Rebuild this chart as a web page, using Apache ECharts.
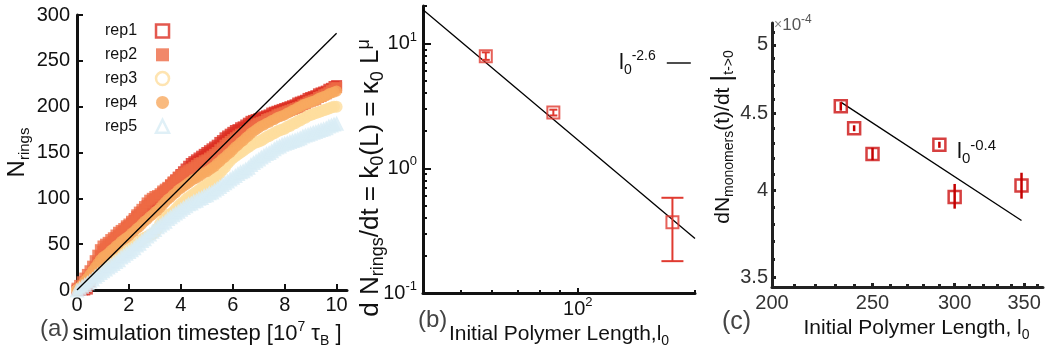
<!DOCTYPE html>
<html>
<head>
<meta charset="utf-8">
<script src="https://cdn.jsdelivr.net/npm/echarts@6/dist/echarts.min.js"></script>
<style>
html,body{margin:0;padding:0;background:#fff;}
#chart{width:1045px;height:350px;}
</style>
</head>
<body>
<div id="chart"></div>
<script>
// ---------------- DATA ----------------
// Panel (a): N_rings vs simulation timestep [10^7 tau_B]
const timesteps = [0,0.1,0.2,0.3,0.4,0.5,0.6,0.7,0.8,0.9,
  1,1.1,1.2,1.3,1.4,1.5,1.6,1.7,1.8,1.9,
  2,2.1,2.2,2.3,2.4,2.5,2.6,2.7,2.8,2.9,
  3,3.1,3.2,3.3,3.4,3.5,3.6,3.7,3.8,3.9,
  4,4.1,4.2,4.3,4.4,4.5,4.6,4.7,4.8,4.9,
  5,5.1,5.2,5.3,5.4,5.5,5.6,5.7,5.8,5.9,
  6,6.1,6.2,6.3,6.4,6.5,6.6,6.7,6.8,6.9,
  7,7.1,7.2,7.3,7.4,7.5,7.6,7.7,7.8,7.9,
  8,8.1,8.2,8.3,8.4,8.5,8.6,8.7,8.8,8.9,
  9,9.1,9.2,9.3,9.4,9.5,9.6,9.7,9.8,9.9,
  10];
const rep1 = [0,0,0,0,1,9,17,24,30,37,
  42,45,47,50,53,57,59,61,64,68,
  70,73,76,80,82,85,88,92,94,97,
  99,101,103,106,108,111,114,117,120,123,
  126,129,132,135,138,140,142,144,146,148,
  150,152,154,156,158,161,163,166,168,170,
  172,174,175,177,178,180,182,184,185,186,
  187,188,189,190,191,193,194,195,196,197,
  198,199,200,201,202,204,205,206,207,209,
  210,211,212,214,215,216,217,219,220,222,
  223];
const rep2 = [2,5,9,13,17,21,26,32,38,44,
  48,50,52,55,57,60,63,65,67,70,
  72,75,78,82,85,88,91,95,98,100,
  102,103,105,108,110,112,115,118,120,123,
  125,127,129,131,132,134,136,138,139,141,
  142,144,146,148,150,153,155,158,160,162,
  164,166,168,170,171,173,175,177,179,181,
  182,183,184,186,187,188,189,191,192,193,
  194,195,196,197,198,199,200,202,203,205,
  206,207,208,210,211,213,214,216,218,220,
  221];
const rep3 = [0,2,4,6,8,11,13,16,18,21,
  23,25,27,29,31,33,36,38,40,42,
  44,47,49,51,53,55,57,58,60,61,
  63,67,72,77,80,82,83,85,88,91,
  94,96,99,101,103,105,107,109,111,113,
  115,117,119,121,124,127,131,134,138,141,
  144,146,148,150,152,154,156,158,160,161,
  162,163,165,167,168,170,171,173,174,175,
  176,178,179,181,182,184,185,187,188,190,
  191,192,193,194,195,196,197,198,199,200,
  200];
const rep4 = [0,3,6,10,13,17,21,25,29,33,
  36,38,40,43,45,48,50,53,55,57,
  59,62,64,67,69,72,75,77,80,82,
  85,87,90,93,96,99,101,104,106,109,
  111,113,115,117,119,121,122,124,126,128,
  129,131,133,135,138,140,143,145,148,150,
  153,156,158,161,163,166,168,171,173,175,
  177,179,180,182,183,185,186,188,189,190,
  191,193,194,196,197,199,200,202,203,204,
  205,206,207,209,210,211,212,214,215,216,
  217];
const rep5 = [0,2,4,6,8,10,12,15,17,19,
  21,23,25,27,29,31,33,36,38,40,
  42,44,46,49,51,54,56,59,61,64,
  66,69,71,73,75,78,80,82,84,86,
  88,90,92,94,95,97,98,100,101,103,
  104,106,107,109,111,113,115,117,119,121,
  123,125,127,129,130,132,134,137,139,141,
  143,145,147,149,150,152,154,156,157,159,
  160,161,162,163,164,165,166,168,169,170,
  171,172,173,174,175,176,177,179,180,181,
  182];
const fitA = [[0,0],[10,280]];
const aXTicks = [0,2,4,6,8,10];
const aYTicks = [0,50,100,150,200,250,300];

// Panel (b): d N_rings/dt vs initial polymer length (log-log)
const polymerLengthB = [58, 86.5, 175];
const ringRateB = [7.9, 2.8, 0.37];
const ringRateLowB = [7.4, 2.65, 0.18];
const ringRateHighB = [8.5, 2.95, 0.58];
const fitB = [[40, 18.7],[200, 0.273]];
const bXMajor = [100];
const bXMinor = [40,50,60,70,80,90,200];
const bYMajor = [0.1, 1, 10];
const bYMinor = [0.2,0.3,0.4,0.5,0.6,0.7,0.8,0.9,2,3,4,5,6,7,8,9,20];

// Panel (c): dN_monomers/dt (x1e-4) vs initial polymer length (log-log)
const polymerLengthC = [233, 240, 250, 290, 300, 348];
const monomerRateC = [4.55, 4.40, 4.23, 4.29, 3.96, 4.03];
const monomerLowC = [4.52, 4.38, 4.19, 4.27, 3.89, 3.95];
const monomerHighC = [4.58, 4.42, 4.27, 4.31, 4.04, 4.11];
const fitC = [[233, 4.58],[348, 3.82]];
const cXMajor = [200, 250, 300, 350];
const cXMinor = [210,220,230,240,260,270,280,290,310,320,330,340,360];
const cYMajor = [3.5, 4, 4.5, 5];
const cYMinor = [3.6,3.7,3.8,3.9,4.1,4.2,4.3,4.4,4.6,4.7,4.8,4.9,5.1];

// ---------------- BUILD ----------------
const FONT = "'Liberation Sans', Arial, Helvetica, sans-serif";
const lg = Math.log10;
const INK = '#111';

function rich(base, small, color) {
  const s = (fs, lh, va) => ({fontSize: fs, lineHeight: lh, verticalAlign: va, color: color, fill: color, fontFamily: FONT, fontWeight: 'normal'});
  return {
    t: s(base, base + 6, 'middle'),
    b: s(base, base + 6, 'middle'),
    sub: s(small, small, 'bottom'),
    sup: s(small, small, 'top'),
    bar: s(base + 6, base + 6, 'middle')
  };
}

function pairs(xs, ys) { return xs.map((x, i) => [x, ys[i]]); }
function logPairs(arr) { return arr.map(p => [lg(p[0]), lg(p[1])]); }

function errorBarRenderer(capBig, capSmall, width, color) {
  return function (params, api) {
    const x = api.value(0), lo = api.value(1), hi = api.value(2);
    const a = api.coord([x, lo]), b = api.coord([x, hi]);
    const style = {stroke: color, lineWidth: width};
    const kids = [{type: 'line', shape: {x1: a[0], y1: a[1], x2: b[0], y2: b[1]}, style: style}];
    if (capBig > 0) {
      const h = Math.abs(a[1] - b[1]) > 20 ? capBig : capSmall;
      kids.push({type: 'line', shape: {x1: a[0] - h, y1: a[1], x2: a[0] + h, y2: a[1]}, style: style});
      kids.push({type: 'line', shape: {x1: b[0] - h, y1: b[1], x2: b[0] + h, y2: b[1]}, style: style});
    }
    return {type: 'group', children: kids};
  };
}

function mainAxis(o) {
  const tickVals = o.ticks;
  return Object.assign({
    type: 'value',
    splitLine: {show: false},
    axisLine: {show: true, onZero: false, lineStyle: {color: o.color || INK, width: 3}},
    axisTick: {show: true, inside: true, length: o.tickLen || 6, lineStyle: {color: o.color || INK, width: o.tickWidth || 2}, customValues: tickVals},
    axisLabel: {show: true, customValues: tickVals, fontSize: 20, color: o.labelColor || INK, fontFamily: FONT, margin: o.margin || 6, formatter: o.formatter, rich: o.rich},
    nameTextStyle: Object.assign({fontFamily: FONT, color: INK}, o.nameTextStyle || {})
  }, o.extra);
}
function minorAxis(o) {
  return Object.assign({
    type: 'value',
    splitLine: {show: false},
    axisLine: {show: false, onZero: false},
    axisLabel: {show: false},
    axisTick: {show: true, inside: true, length: o.tickLen || 3, lineStyle: {color: o.color || INK, width: o.tickWidth || 2}, customValues: o.ticks}
  }, o.extra);
}

const supFmt = v => '{b|10}{sup|' + Math.round(v) + '}';
const cYFmt = v => String(Math.round(Math.pow(10, v) * 10) / 10);
const cXFmt = v => String(Math.round(Math.pow(10, v)));

const bX = [lg(40), lg(200)], bY = [lg(0.1), lg(20)];
const cX = [lg(200), lg(365)], cY = [lg(3.45), lg(5.17)];

const repColors = ['#dc2e22', '#ee6a45', '#fedd9e', '#f8a95f', '#d8ecf5'];
const repSymbols = ['rect', 'rect', 'circle', 'circle', 'triangle'];
const repSizes = [11, 11, 12, 11, 15];
const reps = [rep1, rep2, rep3, rep4, rep5];
const repNames = ['rep1', 'rep2', 'rep3', 'rep4', 'rep5'];

const repSeries = reps.map((r, i) => ({
  name: repNames[i], type: 'scatter', xAxisIndex: 0, yAxisIndex: 0,
  symbol: repSymbols[i], symbolSize: repSizes[i],
  itemStyle: {color: repColors[i]},
  data: pairs(timesteps, r), z: 2, clip: false
}));

const legendA = repNames.map((n, i) => {
  const hollow = (i === 0 || i === 2 || i === 4);
  return {
    name: n, icon: repSymbols[i],
    itemStyle: hollow ? {color: '#fff', borderColor: repColors[i], borderWidth: 2.5} : {color: repColors[i], borderWidth: 0}
  };
});

const titleColor = '#444';
const plainTitle = (text, left, top, size) => ({text: text, left: left, top: top, padding: 0,
  textStyle: {fontSize: size, fontWeight: 'normal', color: titleColor, fontFamily: FONT}});

const option = {
  animation: false,
  backgroundColor: '#fff',
  textStyle: {fontFamily: FONT},
  grid: [
    {left: 77, top: 15, width: 270, height: 275, outerBoundsMode: 'none'},
    {left: 423, top: 6, width: 272, height: 287, outerBoundsMode: 'none'},
    {left: 772, top: 23, width: 271, height: 264, outerBoundsMode: 'none'}
  ],
  title: [
    plainTitle('(a)', 40, 317, 24),
    plainTitle('(b)', 418, 308, 24),
    plainTitle('(c)', 722, 310, 25),
    {text: '{x|×}{b|10}{sup|-4}', left: 774, top: 14, padding: 0,
      textStyle: {fontWeight: 'normal', rich: Object.assign(rich(17, 12, '#555'), {x: {fontSize: 14, color: '#888', lineHeight: 23, fontFamily: FONT, fontWeight: 'normal'}})}},
    {text: '{t|l}{sub|0}{sup|-0.4}', left: 957, top: 138, padding: 0,
      textStyle: {fontWeight: 'normal', rich: rich(22, 15, INK)}}
  ],
  graphic: [
    {type: 'text', x: 371, y: 178, rotation: Math.PI / 2, silent: true,
      style: {text: '{t|d N}{sub|rings}{t|/dt = k}{sub|0}{t|(L) = κ}{sub|0}{t| L}{sup|μ}',
        align: 'center', verticalAlign: 'middle', rich: rich(26, 18, INK), fontFamily: FONT}}
  ],
  legend: [
    {
      orient: 'vertical', left: 100, top: 18, align: 'right', selectedMode: false,
      itemWidth: 13, itemHeight: 13, itemGap: 7.8,
      textStyle: {fontSize: 16, color: INK, fontFamily: FONT, lineHeight: 13, padding: [0, 14, 0, 0]},
      data: legendA
    },
    {
      orient: 'horizontal', left: 614, top: 44, align: 'right', selectedMode: false,
      itemWidth: 24, itemHeight: 1.4,
      formatter: () => '{t|l}{sub|0}{sup|-2.6}',
      textStyle: {rich: rich(22, 14, INK), padding: [0, 6, 0, 0]},
      data: [{name: 'fitB', icon: 'rect', itemStyle: {color: '#000', borderWidth: 0}}]
    }
  ],
  xAxis: [
    mainAxis({ticks: aXTicks, margin: 5, extra: {gridIndex: 0, min: 0, max: 10.4, position: 'bottom',
      name: '{t|simulation timestep [10}{sup|7}{t| τ}{sub|B}{t| ]}', nameLocation: 'middle', nameGap: 27,
      nameTextStyle: {rich: rich(22, 14, INK), padding: [0, 10, 0, 0]}}}),
    mainAxis({ticks: bXMajor.map(lg), formatter: supFmt, rich: rich(20, 13, INK), margin: 3, tickLen: 5,
      extra: {gridIndex: 1, min: bX[0], max: bX[1], position: 'bottom',
      name: '{t|Initial Polymer Length,l}{sub|0}', nameLocation: 'middle', nameGap: 22,
      nameTextStyle: {rich: rich(21, 14, INK)}}}),
    minorAxis({ticks: bXMinor.map(lg), extra: {gridIndex: 1, min: bX[0], max: bX[1], position: 'bottom'}}),
    mainAxis({ticks: cXMajor.map(lg), formatter: cXFmt, labelColor: '#333', color: '#222', tickLen: 4, tickWidth: 3, margin: 6,
      extra: {gridIndex: 2, min: cX[0], max: cX[1], position: 'bottom',
      name: '{t|Initial Polymer Length, l}{sub|0}', nameLocation: 'middle', nameGap: 27,
      nameTextStyle: {rich: rich(21, 14, INK), padding: [0, 0, 0, 18]}}}),
    minorAxis({ticks: cXMinor.map(lg), color: '#222', tickWidth: 3, tickLen: 3, extra: {gridIndex: 2, min: cX[0], max: cX[1], position: 'bottom'}})
  ],
  yAxis: [
    mainAxis({ticks: aYTicks, margin: 7, extra: {gridIndex: 0, min: 0, max: 300, position: 'left',
      name: '{n|N}{sub|rings}', nameLocation: 'middle', nameGap: 45,
      nameTextStyle: {rich: Object.assign(rich(22, 15, INK), {n: {fontSize: 24, lineHeight: 30, color: INK, fontFamily: FONT}})}}}),
    mainAxis({ticks: bYMajor.map(lg), formatter: supFmt, rich: rich(20, 13, INK), margin: 6, tickLen: 8,
      extra: {gridIndex: 1, min: bY[0], max: bY[1], position: 'left'}}),
    minorAxis({ticks: bYMinor.map(lg), tickLen: 4, extra: {gridIndex: 1, min: bY[0], max: bY[1], position: 'left'}}),
    mainAxis({ticks: cYMajor.map(lg), formatter: cYFmt, labelColor: '#333', color: '#222', tickLen: 4, tickWidth: 3, margin: 4,
      extra: {gridIndex: 2, min: cY[0], max: cY[1], position: 'left',
      name: '{t|dN}{sub|monomers}{t|(t)/dt }{bar||}{sub|t->0}', nameLocation: 'middle', nameGap: 30,
      nameTextStyle: {rich: rich(21, 14, INK), padding: [0, 0, 0, 36]}}}),
    minorAxis({ticks: cYMinor.map(lg), color: '#222', tickWidth: 3, tickLen: 3, extra: {gridIndex: 2, min: cY[0], max: cY[1], position: 'left'}})
  ],
  series: repSeries.concat([
    {name: 'fitA', type: 'line', xAxisIndex: 0, yAxisIndex: 0, data: fitA, symbol: 'none',
      lineStyle: {color: '#000', width: 1.3}, z: 5, silent: true},
    {name: 'pointsB', type: 'scatter', xAxisIndex: 1, yAxisIndex: 1, symbol: 'rect', symbolSize: 12,
      itemStyle: {color: 'rgba(255,255,255,0)', borderColor: '#e03a30', borderWidth: 2},
      data: polymerLengthB.map((x, i) => [lg(x), lg(ringRateB[i])]), z: 3},
    {name: 'errB', type: 'custom', xAxisIndex: 1, yAxisIndex: 1, encode: {x: 0, y: [1, 2]},
      renderItem: errorBarRenderer(11, 4, 2, '#e03a30'),
      data: polymerLengthB.map((x, i) => [lg(x), lg(ringRateLowB[i]), lg(ringRateHighB[i])]), z: 4},
    {name: 'fitB', type: 'line', xAxisIndex: 1, yAxisIndex: 1, data: logPairs(fitB), symbol: 'none',
      lineStyle: {color: '#000', width: 1.3}, itemStyle: {color: '#000'}, z: 2},
    {name: 'pointsC', type: 'scatter', xAxisIndex: 3, yAxisIndex: 3, symbol: 'rect', symbolSize: 12,
      itemStyle: {color: 'rgba(255,255,255,0)', borderColor: '#cc1010', borderWidth: 2.5},
      data: polymerLengthC.map((x, i) => [lg(x), lg(monomerRateC[i])]), z: 3},
    {name: 'errC', type: 'custom', xAxisIndex: 3, yAxisIndex: 3, encode: {x: 0, y: [1, 2]},
      renderItem: errorBarRenderer(0, 0, 2.5, '#c40000'),
      data: polymerLengthC.map((x, i) => [lg(x), lg(monomerLowC[i]), lg(monomerHighC[i])]), z: 4},
    {name: 'fitC', type: 'line', xAxisIndex: 3, yAxisIndex: 3, data: logPairs(fitC), symbol: 'none',
      lineStyle: {color: '#000', width: 1.3}, z: 2}
  ])
};

const chart = echarts.init(document.getElementById('chart'), null, {renderer: 'canvas', width: 1045, height: 350});
chart.setOption(option);
</script>
</body>
</html>
